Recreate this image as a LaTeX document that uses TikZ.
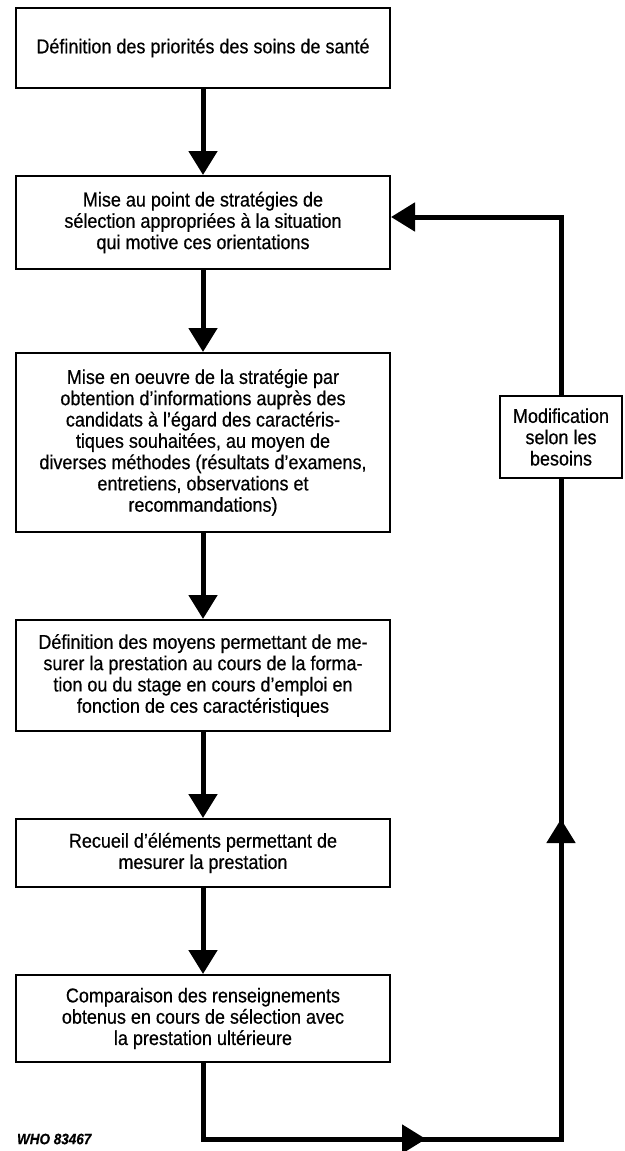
\documentclass[tikz,border=0pt]{standalone}
\usepackage{fontspec}
\setmainfont{Liberation Sans}[FakeStretch=0.9, FakeBold=0.5]
\usetikzlibrary{arrows.meta,decorations.markings}

\tikzset{
  etape/.style={draw, line width=1pt, minimum width=187pt, inner sep=0pt,
    align=center, font=\fontsize{10pt}{10.65pt}\selectfont},
  fleche/.style={line width=2.5pt, -{Triangle[width=14pt,length=12pt]}},
  retour/.style={line width=2.5pt},
}

\begin{document}
\begin{tikzpicture}[x=0.5pt, y=-0.5pt]
        \useasboundingbox (0,0) rectangle (625,1151);

        % Main column
        \node[etape, minimum height=40pt] (b1) at (203,48) {Définition des priorités des soins de santé};
        \node[etape, minimum height=46.5pt] (b2) at (203,222.5) {Mise au point de stratégies de\\ sélection appropriées à la situation\\ qui motive ces orientations};
        \node[etape, minimum height=89.5pt] (b3) at (203,442.5) {Mise en oeuvre de la stratégie par\\ obtention d’informations auprès des\\ candidats à l’égard des caractéris-\\ tiques souhaitées, au moyen de\\ diverses méthodes (résultats d’examens,\\ entretiens, observations et\\ recommandations)};
        \node[etape, minimum height=55.5pt] (b4) at (203,675.5) {Définition des moyens permettant de me-\\ surer la prestation au cours de la forma-\\ tion ou du stage en cours d’emploi en\\ fonction de ces caractéristiques};
        \node[etape, minimum height=34pt] (b5) at (203,853) {Recueil d’éléments permettant de\\ mesurer la prestation};
        \node[etape, minimum height=43.5pt] (b6) at (203,1018.5) {Comparaison des renseignements\\ obtenus en cours de sélection avec\\ la prestation ultérieure};

        \foreach \a/\b in {b1/b2, b2/b3, b3/b4, b4/b5, b5/b6}
          \draw[fleche] (\a) -- (\b);

        % Feedback loop
        \node[etape, minimum width=61pt, minimum height=41pt] (modif) at (561,437) {Modification\\ selon les\\ besoins};
        \coordinate (coinG) at (203,1139);
        \coordinate (coinD) at (561,1139);
        \coordinate (coinH) at (561,217);
        \draw[retour, postaction={decorate}, decoration={markings,
            mark=at position 149.5pt with {\arrow{Triangle[width=14pt,length=12pt]}},
            mark=at position 377pt with {\arrow{Triangle[width=14pt,length=12pt]}}}]
          (b6.south) -- (coinG) -- (coinD) -- (modif.south);
        \draw[fleche] (modif.north) -- (coinH) -- (b2.east |- coinH);

        \node[anchor=west, font=\fontsize{7.5pt}{9pt}\selectfont\bfseries\itshape] (ref) at (10,1139) {WHO 83467};
    \end{tikzpicture}
\end{document}
